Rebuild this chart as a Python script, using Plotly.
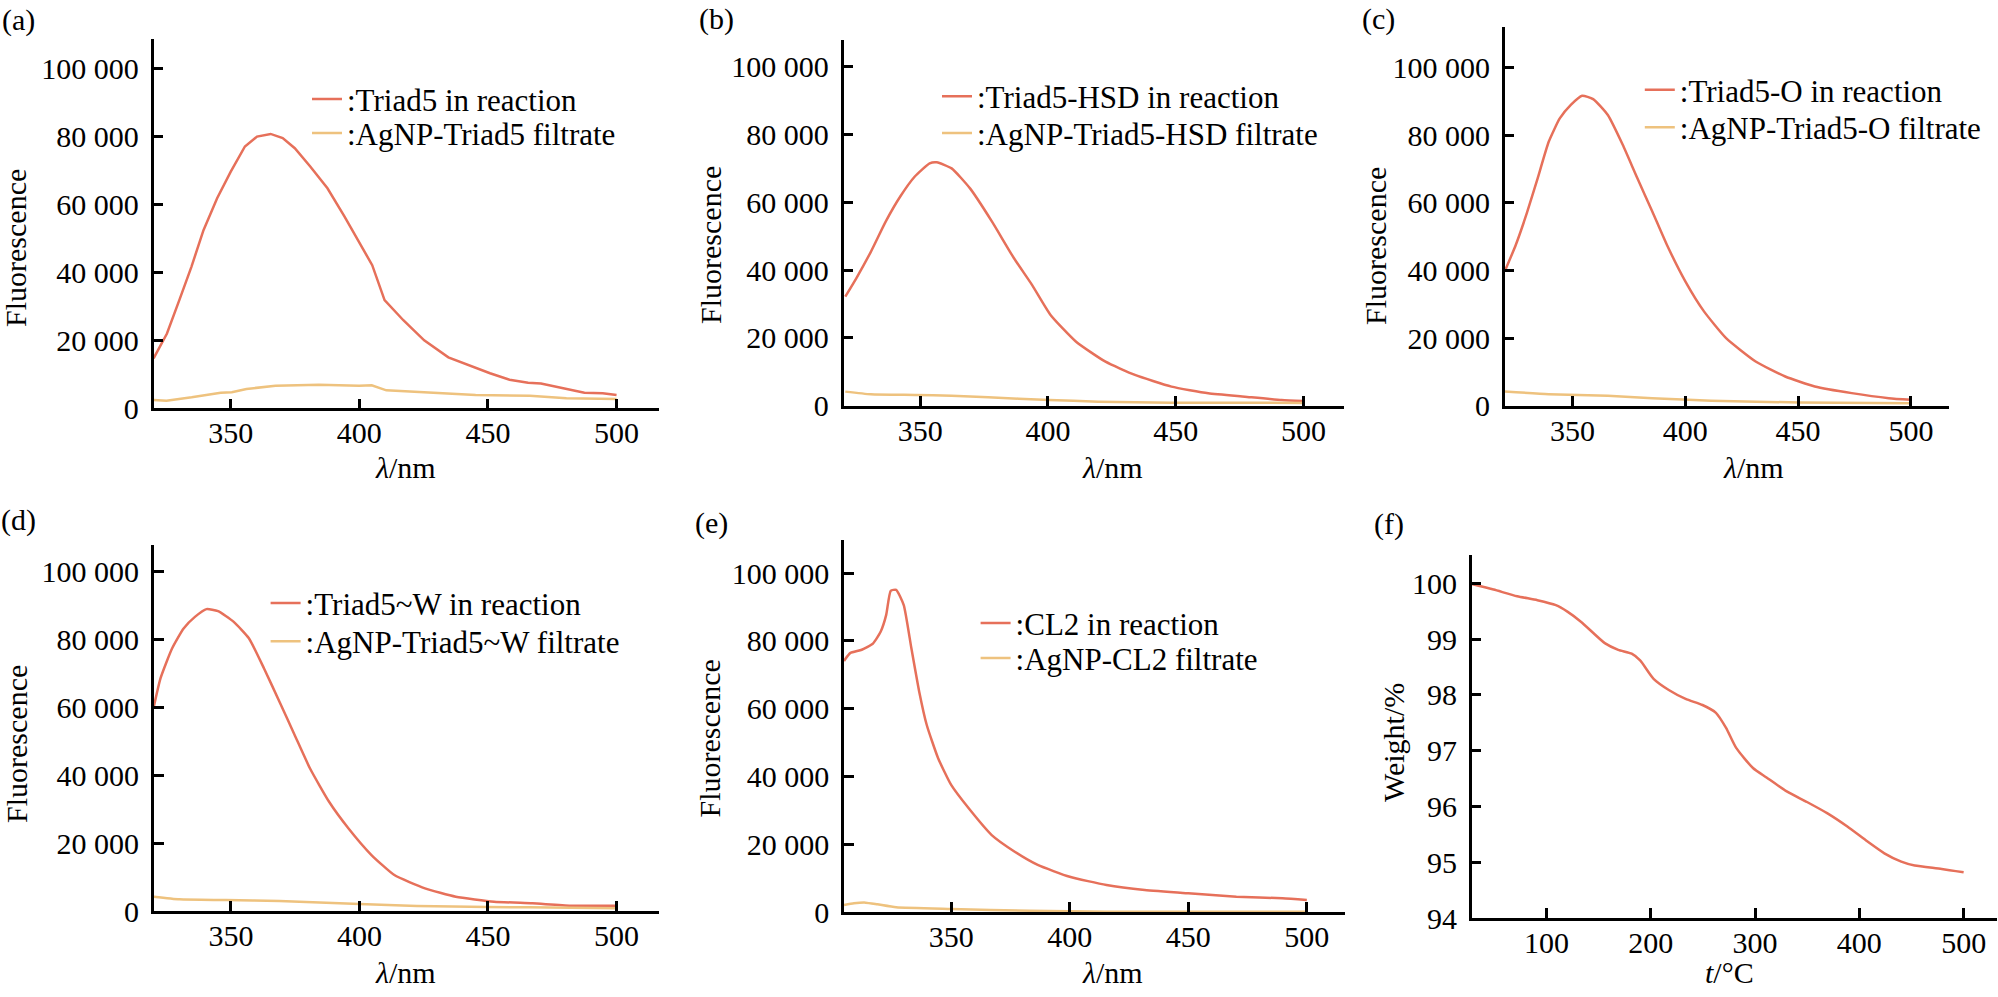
import plotly.graph_objects as go

W, H = 1998, 997

# ---------------- data ----------------
# (a) Triad5
wl_a_red = [320, 325.2, 330, 334.7, 339.4, 344.7, 350, 355.5, 360.2, 365.5, 370.2, 374.9, 380.9, 387.6,
            394.3, 399.7, 405, 409.8, 417.1, 425.2, 434.6, 450.8, 458.4, 465.6, 470.6, 487.5, 494.6, 500]
fl_a_red = [14700, 22000, 31800, 41600, 52400, 61800, 69600, 77000, 79900, 80700, 79500, 76500, 71100, 64700,
            56300, 49000, 42100, 31800, 25900, 20000, 15000, 10300, 8400, 7500, 7300, 4600, 4400, 3900]
wl_a_yel = [320, 325, 334.8, 346.1, 350.4, 356.1, 367.4, 384.3, 399.9, 404.8, 410.5, 423.9, 435.3, 445.2,
            466.3, 480.5, 500]
fl_a_yel = [2440, 2250, 3230, 4600, 4700, 5680, 6660, 6950, 6660, 6760, 5290, 4700, 4210, 3910,
            3710, 2930, 2740]

# (b) Triad5-HSD
wl_b_red = [320.7, 325, 330.7, 336.5, 342.2, 347.9, 353.7, 356.5, 362.3, 369.5, 378.1, 386.7, 393.8, 401,
            411, 422.5, 434, 448.3, 462.7, 477, 491.4, 500]
fl_b_red = [32200, 37600, 45400, 54300, 61700, 67600, 71500, 71800, 70000, 64100, 54300, 43500, 35600, 26800,
            18900, 13000, 9100, 5650, 3700, 2700, 1720, 1430]
wl_b_yel = [320.7, 330.7, 347.9, 362.3, 376.6, 400.4, 419.6, 448.3, 477, 500]
fl_b_yel = [4180, 3390, 3190, 3000, 2500, 1720, 1230, 930, 930, 840]

# (c) Triad5-O
wl_c_red = [320, 324.9, 329.8, 334.6, 339.5, 344.4, 349.3, 354.3, 359.2, 365.7, 372.3, 378.8, 385.4, 391.9,
            400.1, 408.3, 418.1, 431.2, 444.3, 457.4, 473.8, 490.2, 500]
fl_c_red = [39700, 47500, 56900, 67200, 78000, 84900, 88900, 91600, 90600, 85900, 77100, 67200, 57400, 47500,
            36700, 27900, 20000, 13100, 8660, 5710, 3740, 2260, 1770]
wl_c_yel = [320, 339.5, 365.7, 385.4, 411.6, 450.7, 500]
fl_c_yel = [4230, 3440, 2950, 2260, 1480, 980, 790]

# (d) Triad5~W
wl_d_red = [320, 322.6, 327.1, 331.6, 336, 340.5, 345, 351, 357, 362.9, 368.9, 374.8, 380.8, 388.2,
            395.7, 404.7, 413.6, 425.5, 437.5, 452.4, 467.3, 482.2, 500]
fl_d_red = [60200, 68600, 77400, 83300, 86700, 89000, 88400, 85300, 80400, 71500, 61700, 51900, 42000, 32200,
            24400, 16500, 10600, 6680, 4220, 2750, 2260, 1570, 1570]
wl_d_yel = [320, 330, 348, 368.9, 400, 422.4, 450, 482.2, 500]
fl_d_yel = [4220, 3440, 3240, 2950, 2060, 1470, 1180, 980, 790]

# (e) CL2
wl_e_red = [304.8, 307.4, 312.3, 317.1, 320.3, 322.6, 324.5, 326.8, 330, 333.2, 336.5, 339.7, 344.5, 350,
            357.4, 367.1, 376.8, 386.5, 400, 415.5, 431.6, 450, 470.3, 489.7, 500]
fl_e_red = [74100, 76400, 77400, 79300, 82800, 87700, 94800, 95100, 90600, 77900, 65100, 55200, 45400, 37500,
            30600, 22700, 17800, 13900, 10400, 7970, 6500, 5510, 4530, 4040, 3540]
wl_e_yel = [304.8, 309, 313.9, 318.9, 326.8, 350, 383.2, 415.5, 463.9, 500]
fl_e_yel = [2070, 2560, 2760, 2260, 1380, 890, 390, 100, 100, 100]

# (f) TGA
temp_f = [28.3, 49.3, 71.9, 91.3, 109, 120.4, 133.3, 155.9, 168.8, 181.7, 189.8, 202.7, 217.3, 233.4, 249.6,
          262.5, 272.2, 281.9, 298, 311, 330.4, 349.8, 369.1, 388.5, 407.9, 424, 440.2, 453.1, 479, 500]
weight_f = [99.99, 99.89, 99.77, 99.70, 99.61, 99.49, 99.31, 98.93, 98.81, 98.74, 98.62, 98.29, 98.09, 97.93,
            97.82, 97.68, 97.41, 97.05, 96.69, 96.52, 96.27, 96.08, 95.88, 95.64, 95.37, 95.16, 95.01, 94.94,
            94.88, 94.82]

# tick labels
fl_tickvals = [0, 20000, 40000, 60000, 80000, 100000]
fl_ticktext = ["0", "20 000", "40 000", "60 000", "80 000", "100 000"]
wl_tickvals = [350, 400, 450, 500]
t_tickvals = [100, 200, 300, 400, 500]
w_tickvals = [94, 95, 96, 97, 98, 99, 100]

# legend labels
names = {
    "a": [":Triad5 in reaction", ":AgNP-Triad5 filtrate"],
    "b": [":Triad5-HSD in reaction", ":AgNP-Triad5-HSD filtrate"],
    "c": [":Triad5-O in reaction", ":AgNP-Triad5-O filtrate"],
    "d": [":Triad5~W in reaction", ":AgNP-Triad5~W filtrate"],
    "e": [":CL2 in reaction", ":AgNP-CL2 filtrate"],
}

RED = "#E6705A"
YEL = "#EEC27E"
FONT = "Liberation Serif"
FS = 30


def px(x):
    return x / W


def py(y):
    return 1 - y / H


fig = go.Figure()

# panel geometry in pixels: (left, right, top, bottom), x range, y range
panels = {
    "a": dict(box=(153.6, 659, 39.4, 408.3), xr=[320, 516.5], yr=[0, 108500]),
    "b": dict(box=(843.5, 1344, 39.5, 405.8), xr=[320, 515.8], yr=[0, 108000]),
    "c": dict(box=(1504.7, 1949.3, 26.7, 405.8), xr=[320, 517], yr=[0, 112000]),
    "d": dict(box=(153.8, 658.8, 545, 911), xr=[320, 516.5], yr=[0, 107900]),
    "e": dict(box=(844, 1345, 540, 912), xr=[304.8, 516.1], yr=[0, 109800]),
    "f": dict(box=(1471.7, 1997, 555, 918), xr=[28.3, 532], yr=[94, 100.51]),
}

series = {
    "a": [(wl_a_red, fl_a_red, RED), (wl_a_yel, fl_a_yel, YEL)],
    "b": [(wl_b_red, fl_b_red, RED), (wl_b_yel, fl_b_yel, YEL)],
    "c": [(wl_c_red, fl_c_red, RED), (wl_c_yel, fl_c_yel, YEL)],
    "d": [(wl_d_red, fl_d_red, RED), (wl_d_yel, fl_d_yel, YEL)],
    "e": [(wl_e_red, fl_e_red, RED), (wl_e_yel, fl_e_yel, YEL)],
}

# legend row anchors: (line start x, row y)
legend_pos = {
    "a": [(310, 99.3), (310, 133.3)],
    "b": [(940, 96.7), (940, 133.3)],
    "c": [(1642.8, 90), (1642.8, 127.7)],
    "d": [(268.6, 603.3), (268.6, 641.7)],
    "e": [(978.6, 623.3), (978.6, 658.3)],
}

layout_axes = {}
legends = {}
leg_idx = 1
for i, key in enumerate(["a", "b", "c", "d", "e", "f"]):
    n = "" if i == 0 else str(i + 1)
    p = panels[key]
    l, r, t, b = p["box"]
    common = dict(showline=True, linewidth=2.5, linecolor="black", ticks="inside", ticklen=10,
                  tickwidth=2.5, tickcolor="black", showgrid=False, zeroline=False,
                  tickfont=dict(family=FONT, size=FS, color="black"))
    xa = dict(domain=[px(l), px(r)], range=p["xr"], anchor="y" + n, ticklabelstandoff=-4, **common)
    ya = dict(domain=[py(b), py(t)], range=p["yr"], anchor="x" + n, ticklabelstandoff=6, **common)
    if key == "f":
        xa.update(tickmode="array", tickvals=t_tickvals, ticktext=[str(v) for v in t_tickvals])
        ya.update(tickmode="array", tickvals=w_tickvals, ticktext=[str(v) for v in w_tickvals])
    else:
        xa.update(tickmode="array", tickvals=wl_tickvals, ticktext=[str(v) for v in wl_tickvals])
        ya.update(tickmode="array", tickvals=fl_tickvals, ticktext=fl_ticktext)
    layout_axes["xaxis" + n] = xa
    layout_axes["yaxis" + n] = ya

    if key == "f":
        fig.add_trace(go.Scatter(x=temp_f, y=weight_f, mode="lines", xaxis="x" + n, yaxis="y" + n,
                                 line=dict(color=RED, width=2.5, shape="spline", smoothing=0.6),
                                 showlegend=False))
    else:
        for j, (xs, ys, col) in enumerate(series[key]):
            lname = "legend" if leg_idx == 1 else "legend" + str(leg_idx)
            shape = "linear" if key == "a" else "spline"
            fig.add_trace(go.Scatter(x=xs, y=ys, mode="lines", xaxis="x" + n, yaxis="y" + n,
                                     name=names[key][j], legend=lname,
                                     line=dict(color=col, width=2.5, shape=shape, smoothing=0.5),
                                     showlegend=True))
            lx, ly = legend_pos[key][j]
            legends[lname] = dict(x=px(lx - 3), y=py(ly), xanchor="left", yanchor="middle",
                                  xref="paper", yref="paper", bgcolor="rgba(0,0,0,0)",
                                  borderwidth=0, font=dict(family=FONT, size=31, color="black"))
            leg_idx += 1

annotations = []
# panel labels
for txt, (x, y) in {"(a)": (18, 20), "(b)": (716, 19), "(c)": (1378, 19),
                    "(d)": (18, 520), "(e)": (711, 523), "(f)": (1389, 524)}.items():
    annotations.append(dict(text=txt, x=px(x), y=py(y), xref="paper", yref="paper", showarrow=False,
                            xanchor="center", yanchor="middle", font=dict(family=FONT, size=FS, color="black")))
# x titles
for txt, (x, y) in [("<i>λ</i>/nm", (405, 467)), ("<i>λ</i>/nm", (1112, 467)), ("<i>λ</i>/nm", (1753, 467)),
                    ("<i>λ</i>/nm", (405, 972)), ("<i>λ</i>/nm", (1112, 972)), ("<i>t</i>/°C", (1729, 972))]:
    annotations.append(dict(text=txt, x=px(x), y=py(y), xref="paper", yref="paper", showarrow=False,
                            xanchor="center", yanchor="middle", font=dict(family=FONT, size=FS, color="black")))
# y titles
for txt, (x, y) in [("Fluorescence", (16, 248)), ("Fluorescence", (711, 245)), ("Fluorescence", (1375, 246)),
                    ("Fluorescence", (16, 744)), ("Fluorescence", (708.5, 739)), ("Weight/%", (1393, 743))]:
    annotations.append(dict(text=txt, x=px(x), y=py(y), xref="paper", yref="paper", showarrow=False,
                            textangle=-90, xanchor="center", yanchor="middle",
                            font=dict(family=FONT, size=FS, color="black")))

fig.update_layout(
    width=W, height=H,
    margin=dict(l=0, r=0, t=0, b=0, autoexpand=False),
    paper_bgcolor="white", plot_bgcolor="white",
    font=dict(family=FONT, size=FS, color="black"),
    annotations=annotations,
    **layout_axes,
    **legends,
)

fig.write_html("out.html",
               config={"displayModeBar": False},
               post_script="document.body.style.margin='0px';document.body.style.overflow='hidden';")
